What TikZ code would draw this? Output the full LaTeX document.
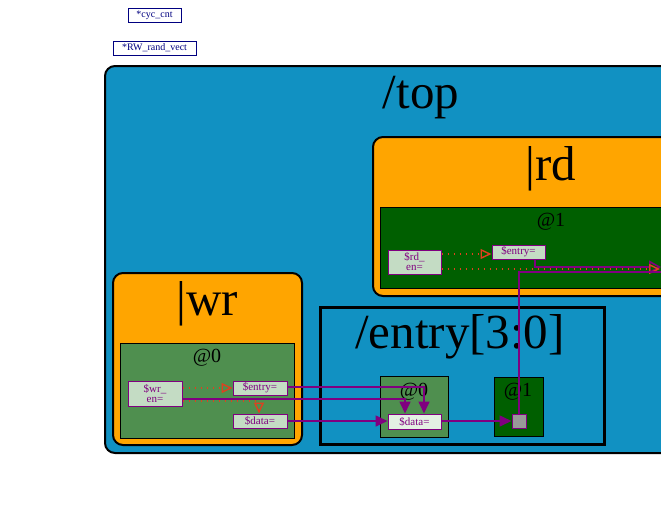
\documentclass[tikz,border=0pt]{standalone}
\usepackage{fontspec}
\setmainfont{Liberation Serif}
\usetikzlibrary{arrows.meta}
\definecolor{topblue}{HTML}{1191C2}
\definecolor{stageor}{HTML}{FFA500}
\definecolor{dkgreen}{HTML}{005F00}
\definecolor{mdgreen}{HTML}{4F8F4F}
\definecolor{sigfill}{HTML}{C4DCC4}
\definecolor{sigfillb}{HTML}{E4F0E4}
\definecolor{sigpurple}{HTML}{800080}
\definecolor{redarrow}{HTML}{E0401F}
\definecolor{navyb}{HTML}{000080}
\tikzset{
  region/.style={draw=black, line width=2pt, rounded corners=10pt, inner sep=0pt, anchor=north west},
  stagebox/.style={draw=black, line width=1pt, inner sep=0pt, anchor=north west},
  sigbox/.style={draw=sigpurple, line width=1pt, fill=sigfill, inner sep=0pt, anchor=north west,
    text=sigpurple, font=\fontsize{11}{10}\selectfont, align=center},
  globbox/.style={draw=navyb, line width=1pt, fill=white, inner sep=0pt, anchor=north west,
    text=navyb, font=\fontsize{10}{10}\selectfont},
  biglbl/.style={font=\fontsize{49}{50}\selectfont, inner sep=0pt, anchor=base},
  stglbl/.style={font=\fontsize{20}{22}\selectfont, inner sep=0pt, anchor=base},
  pwire/.style={draw=sigpurple, line width=1.6pt, -{Triangle[length=12pt,width=11pt]}},
  pline/.style={draw=sigpurple, line width=1.6pt},
  rdot/.style={draw=redarrow, line width=1.3pt, dash pattern=on 1.3pt off 4.7pt,
    -{Triangle[open,length=11pt,width=10pt,line width=1.4pt]}},
}
\begin{document}
\begin{tikzpicture}[x=1pt,y=-1pt]
\useasboundingbox (0,0) rectangle (661,528);
\clip (0,0) rectangle (661,528);
\fill[white] (0,0) rectangle (661,528);
% globals
\node[globbox, minimum width=53pt, minimum height=14pt] (cyc) at (127.5,7.5) {*cyc\_cnt};
\node[globbox, minimum width=83pt, minimum height=14pt] (rw) at (112.5,40.5) {*RW\_rand\_vect};
% top
\node[region, fill=topblue, minimum width=634pt, minimum height=387pt] (top) at (104,65) {};
\node[biglbl] (toplbl) at (421,108) {/top};
% rd
\node[region, fill=stageor, minimum width=358pt, minimum height=159pt] (rd) at (372,136) {};
\node[biglbl] (rdlbl) at (551,180) {|rd};
\node[stagebox, fill=dkgreen, minimum width=343pt, minimum height=81pt] (rdat) at (379.5,206.5) {};
\node[stglbl] (rdatlbl) at (551,226) {@1};
\node[sigbox, minimum width=53pt, minimum height=24pt] (rden) at (387.5,249.5) {\$rd\_\\en=};
\node[sigbox, minimum width=53pt, minimum height=14pt] (rdentry) at (491.5,244.5) {\$entry=};
% wr
\node[region, fill=stageor, minimum width=189pt, minimum height=172pt] (wr) at (112,272) {};
\node[biglbl] (wrlbl) at (207,315) {|wr};
\node[stagebox, fill=mdgreen, minimum width=174pt, minimum height=95pt] (wrat) at (119.5,342.5) {};
\node[stglbl] (wratlbl) at (207,362) {@0};
\node[sigbox, minimum width=54pt, minimum height=25pt] (wren) at (127.5,380.5) {\$wr\_\\en=};
\node[sigbox, minimum width=54pt, minimum height=14pt] (wrentry) at (232.5,380.5) {\$entry=};
\node[sigbox, minimum width=54pt, minimum height=14pt] (wrdata) at (232.5,413.5) {\$data=};
% entry
\node[draw=black, line width=3pt, fill=topblue, inner sep=0pt, anchor=north west,
  minimum width=284pt, minimum height=137pt] (entry) at (318.5,305.5) {};
\node[biglbl] (entrylbl) at (460,348) {/entry[3:0]};
\node[stagebox, fill=mdgreen, minimum width=68pt, minimum height=61pt] (enat0) at (379.5,375.5) {};
\node[stglbl] (enat0lbl) at (414,396) {@0};
\node[stagebox, fill=dkgreen, minimum width=49pt, minimum height=59pt] (enat1) at (493.5,376.5) {};
\node[stglbl] (enat1lbl) at (518,396) {@1};
\node[sigbox, fill=sigfillb, minimum width=53pt, minimum height=15pt] (endata) at (387.5,413.5) {\$data=};
\node[draw=sigpurple, line width=1pt, fill=gray!80, inner sep=0pt, anchor=north west,
  minimum width=14pt, minimum height=14pt] (sq) at (511.5,413.5) {};
% free ends
\coordinate (rdout1) at (661,267);
\coordinate (rdout2) at (660,269);
\coordinate (rdin) at (700,272);
% rd connectors
\draw[rdot] (rden.east |- 0,254) -- (rdentry.west |- 0,254);
\draw[pwire, -{Triangle[open,length=12pt,width=13pt,line width=1.6pt]}] (rdentry.south -| 535,0) |- (rdout1);
\draw[rdot] (rden.east |- 0,269) -- (rdout2);
\draw[pline] (rdin) -| (sq.north);
% wr connectors
\draw[rdot] (wren.east |- 0,388) -- (wrentry.west |- 0,388);
\draw[rdot] (wren.east |- 0,401) -| (wrdata.north -| 259,0);
\draw[pwire] (wrentry.east |- 0,387) -| (endata.north -| 424,0);
\draw[pwire] (wren.east |- 0,399) -| (endata.north -| 405,0);
\draw[pwire] (wrdata.east |- 0,421) -- (endata.west |- 0,421);
\draw[pwire] (endata.east |- 0,421) -- (sq.west |- 0,421);
\end{tikzpicture}
\end{document}
